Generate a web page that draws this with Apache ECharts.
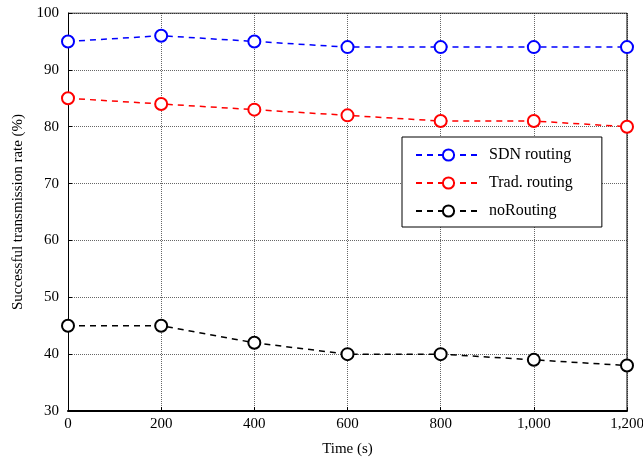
<!DOCTYPE html>
<html>
<head>
<meta charset="utf-8">
<script src="https://cdn.jsdelivr.net/npm/echarts@6/dist/echarts.min.js"></script>
<style>
  html, body { margin: 0; padding: 0; background: #fff; }
  #chart { width: 643px; height: 458px; }
</style>
</head>
<body>
<div id="chart"></div>
<script>
// Transmission success over time for three routing schemes
const times = [0, 200, 400, 600, 800, 1000, 1200];
const sdnRouting = [95, 96, 95, 94, 94, 94, 94];
const tradRouting = [85, 84, 83, 82, 81, 81, 80];
const noRouting = [45, 45, 42, 40, 40, 39, 38];

const seriesNames = ['SDN routing', 'Trad. routing', 'noRouting'];
const seriesColors = ['#0000ff', '#ff0000', '#000000'];
const seriesValues = [sdnRouting, tradRouting, noRouting];

const FONT = '"Liberation Serif", "Times New Roman", serif';

const chart = echarts.init(document.getElementById('chart'));

const series = seriesNames.map((name, i) => ({
  name: name,
  type: 'line',
  data: times.map((t, j) => [t, seriesValues[i][j]]),
  symbol: 'emptyCircle',
  symbolSize: 12,
  showAllSymbol: true,
  clip: false,
  color: seriesColors[i],
  lineStyle: { color: seriesColors[i], width: 1.5, type: [6, 5] },
  itemStyle: { color: seriesColors[i], borderColor: seriesColors[i], borderWidth: 1.6 },
  emphasis: { disabled: true },
  z: 5 - i
}));

chart.setOption({
  animation: false,
  backgroundColor: '#fff',
  textStyle: { fontFamily: FONT },
  grid: { left: 68, right: 16, top: 13, bottom: 47, show: false, containLabel: false, outerBoundsMode: 'none' },
  legend: {
    orient: 'vertical',
    left: 402,
    top: 137,
    padding: [10, 29, 8, 13],
    itemGap: 12,
    itemWidth: 65,
    itemHeight: 14,
    backgroundColor: '#fff',
    borderColor: '#000',
    borderWidth: 1,
    textStyle: { fontFamily: FONT, fontSize: 16, color: '#000', padding: [0, 0, 0, 3] },
    data: seriesNames
  },
  xAxis: {
    type: 'value',
    min: 0,
    max: 1200,
    interval: 200,
    name: 'Time (s)',
    nameLocation: 'middle',
    nameGap: 31,
    nameTextStyle: { fontFamily: FONT, fontSize: 15, color: '#000' },
    axisLine: { show: true, onZero: false, lineStyle: { color: '#000', width: 2 } },
    axisTick: { show: true, inside: true, length: 4, lineStyle: { color: '#000' } },
    axisLabel: {
      fontFamily: FONT, fontSize: 15, color: '#000', margin: 6,
      formatter: v => v.toLocaleString('en-US')
    },
    splitLine: { show: true, lineStyle: { color: '#000', width: 0.6, type: [1, 1] } }
  },
  yAxis: {
    type: 'value',
    min: 30,
    max: 100,
    interval: 10,
    name: 'Successful transmission rate (%)',
    nameLocation: 'middle',
    nameGap: 41,
    nameTextStyle: { fontFamily: FONT, fontSize: 15, color: '#000' },
    axisLine: { show: true, lineStyle: { color: '#000', width: 1 } },
    axisTick: { show: true, inside: true, length: 4, lineStyle: { color: '#000' } },
    axisLabel: { fontFamily: FONT, fontSize: 15, color: '#000', margin: 9 },
    splitLine: { show: true, lineStyle: { color: '#000', width: 0.6, type: [1, 1] } }
  },
  series: series.concat([{
    // top and right frame of the axes box
    type: 'line',
    data: [[0, 100], [1200, 100], [1200, 30]],
    symbol: 'none',
    silent: true,
    lineStyle: { color: '#000', width: 1 },
    tooltip: { show: false },
    z: 1
  }])
});
</script>
</body>
</html>
